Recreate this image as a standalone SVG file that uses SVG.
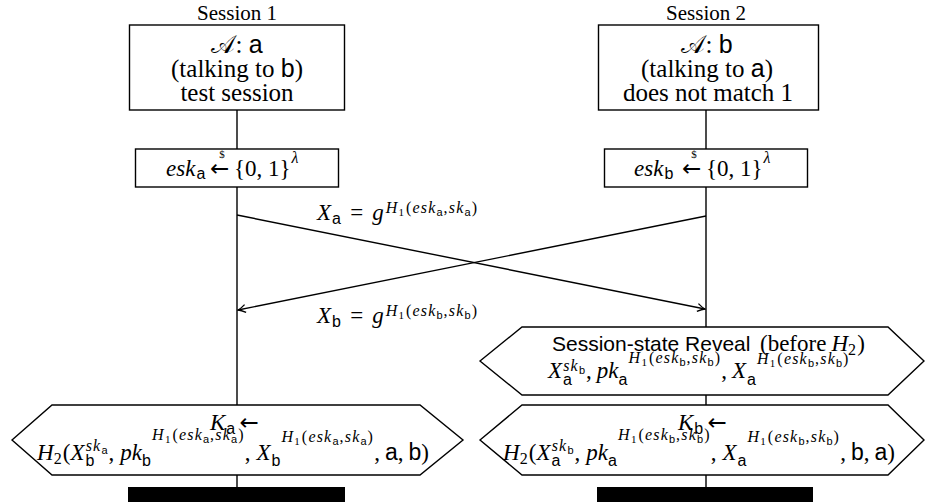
<svg xmlns="http://www.w3.org/2000/svg" width="925" height="502" viewBox="0 0 925 502">
<defs>
<style>
.t{font-family:"Liberation Serif","Times New Roman",serif;font-size:23px;fill:#000}
.ttl{font-size:21px}
.big{font-size:25px}
.i{font-style:italic}
.sf{font-family:"Liberation Sans",Arial,sans-serif;font-style:normal}
.s{font-size:16px;letter-spacing:1.2px}
.ss{font-size:11px;letter-spacing:0}
.ar{font-family:"DejaVu Sans",sans-serif;font-style:normal}
.box{fill:#fff;stroke:#000;stroke-width:1.4}
.ln{fill:none;stroke:#000;stroke-width:1.4}
.bar{fill:#000}
.cal{font-family:"DejaVu Serif","DejaVu Sans","Noto Sans",serif}
</style>
<marker id="ah" viewBox="-9 -5 10 10" refX="0" refY="0" markerWidth="10" markerHeight="10" orient="auto" markerUnits="userSpaceOnUse">
<path d="M-7.5,-4 Q-3,-0.8 0,0 Q-3,0.8 -7.5,4" fill="none" stroke="#000" stroke-width="1.3"/>
</marker>
</defs>
<rect width="925" height="502" fill="#fff"/>

<g id="connectors">
<path class="ln" d="M237,110 V149 M237,187 V405 M237,475 V487"/>
<path class="ln" d="M706,110 V149 M706,187 V327 M706,395 V405 M706,475 V487"/>
<line class="ln" x1="237" y1="215" x2="705" y2="309" marker-end="url(#ah)"/>
<line class="ln" x1="706" y1="216" x2="238" y2="310" marker-end="url(#ah)"/>
<text class="t" x="317" y="220"><tspan class="i">X</tspan><tspan class="sf s" y="224" dx="1">a</tspan><tspan y="220" dx="8">=</tspan><tspan class="i" dx="9">g</tspan><tspan class="i s" y="213" dx="2">H</tspan><tspan class="ss" y="216">1</tspan><tspan class="s" y="213" dx="2">(</tspan><tspan class="i s">esk</tspan><tspan class="sf ss" y="216">a</tspan><tspan class="s" y="213" dx="1">,</tspan><tspan class="i s">sk</tspan><tspan class="sf ss" y="216">a</tspan><tspan class="s" y="213" dx="1">)</tspan></text>
<text class="t" x="317" y="323"><tspan class="i">X</tspan><tspan class="sf s" y="327" dx="1">b</tspan><tspan y="323" dx="8">=</tspan><tspan class="i" dx="9">g</tspan><tspan class="i s" y="316" dx="2">H</tspan><tspan class="ss" y="319">1</tspan><tspan class="s" y="316" dx="2">(</tspan><tspan class="i s">esk</tspan><tspan class="sf ss" y="319">b</tspan><tspan class="s" y="316" dx="1">,</tspan><tspan class="i s">sk</tspan><tspan class="sf ss" y="319">b</tspan><tspan class="s" y="316" dx="1">)</tspan></text>
</g>

<g id="session1">
<text class="t ttl" x="237" y="19.5" text-anchor="middle">Session 1</text>
<rect class="box" x="129.5" y="25" width="215" height="85"/>
<text class="t big" x="237" y="53" text-anchor="middle"><tspan class="cal">𝒜</tspan>: <tspan class="sf">a</tspan></text>
<text class="t big" x="237" y="77" text-anchor="middle">(talking to <tspan class="sf">b</tspan>)</text>
<text class="t big" x="237" y="101" text-anchor="middle">test session</text>
</g>

<g id="session2">
<text class="t ttl" x="706" y="19.5" text-anchor="middle">Session 2</text>
<rect class="box" x="598.5" y="25" width="220" height="85"/>
<text class="t big" x="707" y="53" text-anchor="middle"><tspan class="cal">𝒜</tspan>: <tspan class="sf">b</tspan></text>
<text class="t big" x="707" y="77" text-anchor="middle">(talking to <tspan class="sf">a</tspan>)</text>
<text class="t big" x="708" y="101" text-anchor="middle">does not match 1</text>
</g>

<g id="esk-a">
<rect class="box" x="135.5" y="149" width="203" height="38"/>
<text class="t" y="176"><tspan x="166" class="i">esk</tspan><tspan class="sf s" y="179" dx="1">a</tspan><tspan x="210" y="176" class="ar">←</tspan><tspan x="234">{0, 1}</tspan><tspan class="i s" y="163" dx="1">λ</tspan></text>
<text class="t ss" x="222" y="158" text-anchor="middle">$</text>
</g>

<g id="esk-b">
<rect class="box" x="604.5" y="149" width="203" height="38"/>
<text class="t" y="176"><tspan x="634" class="i">esk</tspan><tspan class="sf s" y="179" dx="1">b</tspan><tspan x="682" y="176" class="ar">←</tspan><tspan x="706">{0, 1}</tspan><tspan class="i s" y="163" dx="1">λ</tspan></text>
<text class="t ss" x="694" y="158" text-anchor="middle">$</text>
</g>

<g id="reveal">
<polygon class="box" points="480,361 522,327 888,327 924,361 888,395 522,395"/>
<text class="t" y="351"><tspan x="552" class="sf" style="font-size:21px">Session-state Reveal</tspan><tspan x="760">(before</tspan><tspan class="i" dx="5">H</tspan><tspan class="s" y="355">2</tspan><tspan y="351">)</tspan></text>
<text class="t" x="548" y="378"><tspan class="i">X</tspan><tspan class="sf s" y="385" dx="1">a</tspan><tspan class="i s" y="371" dx="-10">sk</tspan><tspan class="sf ss" y="374">b</tspan><tspan y="378" dx="1">,</tspan><tspan class="i" dx="5">pk</tspan><tspan class="sf s" y="385">a</tspan><tspan class="i s" y="363">H</tspan><tspan class="ss" y="366">1</tspan><tspan class="s" y="363" dx="2">(</tspan><tspan class="i s">esk</tspan><tspan class="sf ss" y="366">b</tspan><tspan class="s" y="363" dx="1">,</tspan><tspan class="i s">sk</tspan><tspan class="sf ss" y="366">b</tspan><tspan class="s" y="363" dx="1">)</tspan><tspan y="378">,</tspan><tspan class="i" dx="5">X</tspan><tspan class="sf s" y="385" dx="1">a</tspan><tspan class="i s" y="364">H</tspan><tspan class="ss" y="367">1</tspan><tspan class="s" y="364" dx="2">(</tspan><tspan class="i s">esk</tspan><tspan class="sf ss" y="367">b</tspan><tspan class="s" y="364" dx="1">,</tspan><tspan class="i s">sk</tspan><tspan class="sf ss" y="367">b</tspan><tspan class="s" y="364" dx="1">)</tspan></text>
</g>

<g id="key-a">
<polygon class="box" points="12,440 52,405 420,405 463,440 420,475 52,475"/>
<text class="t" x="210" y="430"><tspan class="i">K</tspan><tspan class="sf s" y="434" dx="1">a</tspan><tspan class="ar" y="430" dx="3">←</tspan></text>
<text class="t" x="37" y="460"><tspan class="i">H</tspan><tspan class="s" y="464">2</tspan><tspan y="460">(</tspan><tspan class="i">X</tspan><tspan class="sf s" y="466" dx="1">b</tspan><tspan class="i s" y="451" dx="-10">sk</tspan><tspan class="sf ss" y="454">a</tspan><tspan y="460" dx="1">,</tspan><tspan class="i" dx="6">pk</tspan><tspan class="sf s" y="466">b</tspan><tspan class="i s" y="440">H</tspan><tspan class="ss" y="443">1</tspan><tspan class="s" y="440" dx="2">(</tspan><tspan class="i s">esk</tspan><tspan class="sf ss" y="443">a</tspan><tspan class="s" y="440" dx="1">,</tspan><tspan class="i s">sk</tspan><tspan class="sf ss" y="443">a</tspan><tspan class="s" y="440" dx="1">)</tspan><tspan y="460">,</tspan><tspan class="i" dx="6">X</tspan><tspan class="sf s" y="466" dx="1">b</tspan><tspan class="i s" y="442">H</tspan><tspan class="ss" y="445">1</tspan><tspan class="s" y="442" dx="2">(</tspan><tspan class="i s">esk</tspan><tspan class="sf ss" y="445">a</tspan><tspan class="s" y="442" dx="1">,</tspan><tspan class="i s">sk</tspan><tspan class="sf ss" y="445">a</tspan><tspan class="s" y="442" dx="1">)</tspan><tspan y="460">,</tspan><tspan class="sf" dx="5">a</tspan><tspan>,</tspan><tspan class="sf" dx="5">b</tspan><tspan>)</tspan></text>
<rect class="bar" x="128" y="487" width="217" height="15"/>
</g>

<g id="key-b">
<polygon class="box" points="480,440 522,405 888,405 924,440 888,475 522,475"/>
<text class="t" x="678" y="430"><tspan class="i">K</tspan><tspan class="sf s" y="434" dx="1">b</tspan><tspan class="ar" y="430" dx="3">←</tspan></text>
<text class="t" x="503" y="460"><tspan class="i">H</tspan><tspan class="s" y="464">2</tspan><tspan y="460">(</tspan><tspan class="i">X</tspan><tspan class="sf s" y="466" dx="1">a</tspan><tspan class="i s" y="451" dx="-10">sk</tspan><tspan class="sf ss" y="454">b</tspan><tspan y="460" dx="1">,</tspan><tspan class="i" dx="6">pk</tspan><tspan class="sf s" y="466">a</tspan><tspan class="i s" y="440">H</tspan><tspan class="ss" y="443">1</tspan><tspan class="s" y="440" dx="2">(</tspan><tspan class="i s">esk</tspan><tspan class="sf ss" y="443">b</tspan><tspan class="s" y="440" dx="1">,</tspan><tspan class="i s">sk</tspan><tspan class="sf ss" y="443">b</tspan><tspan class="s" y="440" dx="1">)</tspan><tspan y="460">,</tspan><tspan class="i" dx="6">X</tspan><tspan class="sf s" y="466" dx="1">a</tspan><tspan class="i s" y="442">H</tspan><tspan class="ss" y="445">1</tspan><tspan class="s" y="442" dx="2">(</tspan><tspan class="i s">esk</tspan><tspan class="sf ss" y="445">b</tspan><tspan class="s" y="442" dx="1">,</tspan><tspan class="i s">sk</tspan><tspan class="sf ss" y="445">b</tspan><tspan class="s" y="442" dx="1">)</tspan><tspan y="460">,</tspan><tspan class="sf" dx="5">b</tspan><tspan>,</tspan><tspan class="sf" dx="5">a</tspan><tspan>)</tspan></text>
<rect class="bar" x="597" y="487" width="216" height="15"/>
</g>
</svg>
